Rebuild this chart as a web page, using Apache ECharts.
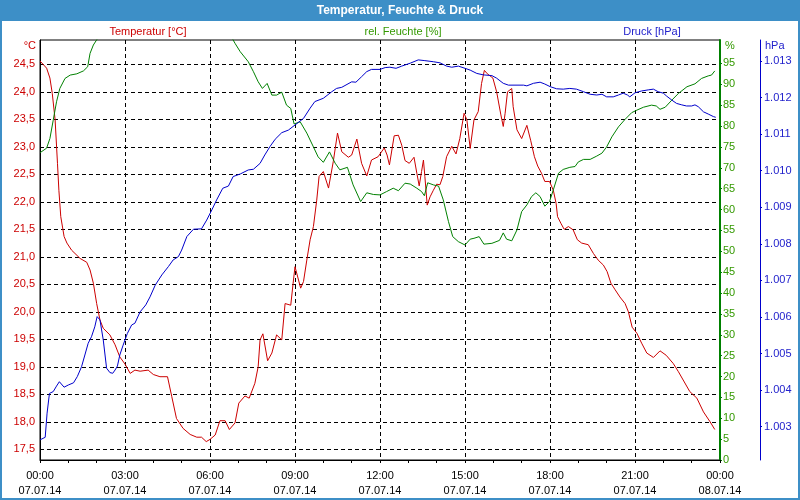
<!DOCTYPE html>
<html><head><meta charset="utf-8">
<script src="https://cdn.jsdelivr.net/npm/echarts@6/dist/echarts.min.js"></script>
<style>html,body{margin:0;padding:0;background:#fff}#c{width:800px;height:500px}</style>
</head><body><div id="c"></div><script>
// Time axis labels (every 3 hours)
const xLabels = ['00:00\n07.07.14','03:00\n07.07.14','06:00\n07.07.14','09:00\n07.07.14','12:00\n07.07.14','15:00\n07.07.14','18:00\n07.07.14','21:00\n07.07.14','00:00\n08.07.14'];
const tempTicks = [17.5,18,18.5,19,19.5,20,20.5,21,21.5,22,22.5,23,23.5,24,24.5];
const humTicks = [0,5,10,15,20,25,30,35,40,45,50,55,60,65,70,75,80,85,90,95];
const presTicks = [1003,1004,1005,1006,1007,1008,1009,1010,1011,1012,1013];

// Temperatur [°C] - minutes since 00:00
const tempTime = [0,14,21,26,32,37,40,44,51,57,67,85,99,106,113,120,127,134,148,159,169,180,191,201,212,229,240,254,270,279,289,303,318,332,342,352,360,371,381,392,401,413,421,434,443,455,462,466,472,482,491,501,512,519,531,536,540,544,552,558,565,572,579,586,591,600,611,621,630,639,653,660,671,681,692,702,716,729,735,740,750,759,766,773,782,792,798,803,808,812,815,820,826,833,840,847,853,861,872,881,889,898,904,911,919,928,935,941,947,959,967,976,981,985,990,999,1002,1010,1020,1031,1039,1047,1054,1062,1069,1079,1087,1093,1096,1103,1110,1119,1129,1138,1147,1161,1172,1182,1193,1201,1209,1218,1228,1239,1246,1254,1264,1274,1285,1299,1313,1326,1341,1352,1362,1376,1391,1405,1419,1429];
const tempVal = [24.56,24.43,24.25,23.97,23.49,22.7,22.21,21.73,21.37,21.25,21.12,20.97,20.9,20.76,20.52,20.15,19.85,19.7,19.58,19.4,19.18,19.05,18.88,18.94,18.92,18.94,18.86,18.82,18.82,18.46,18.06,17.88,17.77,17.72,17.72,17.64,17.68,17.76,18.02,18.02,17.86,17.98,18.34,18.47,18.43,18.7,19.0,19.49,19.6,19.11,19.25,19.58,19.49,20.15,20.12,20.52,20.82,20.85,20.43,20.55,20.94,21.31,21.55,22.03,22.46,22.55,22.25,22.73,23.25,22.91,22.81,22.85,23.14,22.7,22.47,22.76,22.82,22.98,22.85,22.67,23.2,23.21,23.03,22.75,22.7,22.81,22.52,22.29,22.55,22.76,22.46,21.94,22.09,22.21,22.32,22.31,22.46,22.82,23.01,22.87,23.15,23.61,23.49,22.97,23.49,23.64,24.15,24.39,24.33,24.25,24.0,23.58,23.37,23.61,24.0,24.06,23.73,23.31,23.15,23.39,23.12,22.82,22.65,22.52,22.37,22.37,22.21,21.97,21.73,21.61,21.5,21.55,21.49,21.31,21.25,21.22,21.06,20.94,20.85,20.73,20.52,20.4,20.27,20.15,20.0,19.72,19.61,19.43,19.25,19.17,19.29,19.21,19.06,18.91,18.76,18.55,18.43,18.18,18.0,17.86];

// rel. Feuchte [%]
const humTime = [0,14,21,28,35,42,53,64,78,92,101,106,113,121,127,398,408,413,424,441,452,462,471,481,491,501,512,522,531,538,551,565,579,589,600,613,625,635,651,663,679,692,706,720,734,748,759,773,784,798,808,814,821,833,844,854,865,874,886,900,911,919,930,940,957,973,981,988,999,1010,1020,1031,1041,1050,1059,1069,1079,1087,1098,1108,1122,1133,1140,1151,1165,1179,1190,1200,1211,1225,1239,1253,1264,1278,1295,1305,1313,1324,1338,1352,1370,1387,1401,1415,1422,1429];
const humVal = [73.6,74.7,77.0,81.4,85.8,89.0,91.4,92.2,92.5,93.2,94.2,97.4,99.4,100.8,102,102,100.8,99.8,97.8,95.4,93.0,90.6,89.0,90.2,87.4,87.4,88.1,85.0,84.2,80.5,81.0,78.3,75.0,72.6,71.3,73.8,71.1,69.5,70.1,65.9,61.9,64.0,63.6,63.5,64.3,65.1,64.5,66.3,66.1,65.1,64.3,63.3,66.4,65.9,65.6,62.3,57.1,53.5,52.3,51.5,52.9,53.1,53.5,51.7,51.9,52.6,54.4,52.9,52.5,55.1,59.5,61.1,63.1,64.0,63.1,60.8,61.9,64.7,68.7,69.6,70.1,70.3,71.4,72.0,72.0,72.8,73.5,75.0,77.4,79.8,81.6,83.2,83.8,84.5,85.0,84.8,84.0,84.5,86.2,87.8,89.4,90.1,91.4,92.0,92.2,93.2];

// Druck [hPa]
const presTime = [0,11,15,20,28,35,41,51,60,71,79,88,95,102,109,116,121,127,134,141,148,154,159,164,169,176,185,194,201,212,224,233,244,258,272,282,293,300,311,325,342,353,364,374,387,399,409,424,441,452,466,476,487,498,512,526,540,558,572,582,600,618,628,639,660,669,681,692,702,720,731,741,754,766,784,801,815,833,847,861,872,886,900,911,925,939,957,967,981,992,1024,1031,1045,1059,1069,1080,1094,1108,1122,1136,1151,1165,1179,1190,1200,1214,1225,1235,1244,1249,1260,1274,1288,1299,1309,1320,1327,1338,1348,1359,1369,1380,1387,1394,1405,1415,1426,1431];
const presVal = [1002.64,1002.71,1003.37,1003.91,1003.96,1004.11,1004.23,1004.08,1004.14,1004.2,1004.37,1004.64,1004.96,1005.28,1005.46,1005.73,1006.01,1005.92,1005.37,1004.6,1004.48,1004.46,1004.55,1004.66,1004.96,1005.23,1005.55,1005.78,1005.83,1006.14,1006.33,1006.55,1006.87,1007.15,1007.38,1007.56,1007.65,1007.83,1008.2,1008.4,1008.41,1008.65,1008.93,1009.2,1009.52,1009.58,1009.84,1009.91,1010.02,1010.04,1010.2,1010.43,1010.66,1010.86,1011.04,1011.11,1011.25,1011.43,1011.71,1011.89,1011.98,1012.16,1012.25,1012.28,1012.43,1012.42,1012.57,1012.71,1012.77,1012.77,1012.82,1012.83,1012.8,1012.86,1012.94,1013.03,1013.01,1012.98,1012.95,1012.86,1012.83,1012.86,1012.8,1012.75,1012.66,1012.62,1012.6,1012.53,1012.39,1012.34,1012.34,1012.32,1012.39,1012.42,1012.37,1012.3,1012.24,1012.23,1012.25,1012.23,1012.16,1012.09,1012.07,1012.09,1012.02,1012.02,1012.07,1012.12,1012.07,1012.02,1012.13,1012.18,1012.21,1012.23,1012.16,1012.12,1012.04,1011.93,1011.84,1011.8,1011.77,1011.77,1011.8,1011.75,1011.61,1011.55,1011.48,1011.46];

const zip = (a, b) => a.map((t, i) => [t, b[i]]);
const FONT = 'Liberation Sans';
const RED = '#cc0000', GREEN = '#008000', GREENTXT = '#339900', BLUE = '#0000cc', BLUETXT = '#2222cc';

const chart = echarts.init(document.getElementById('c'), null, {renderer: 'canvas'});
chart.setOption({
  animation: false,
  backgroundColor: '#ffffff',
  textStyle: {fontFamily: FONT},
  grid: {left: 40, right: 80, top: 40, bottom: 40, show: true, borderColor: '#000', borderWidth: 1, backgroundColor: '#ffffff'},
  graphic: [
    {type: 'rect', shape: {x: 0, y: 0, width: 800, height: 21}, style: {fill: '#3d8fc7'}, silent: true},
    {type: 'rect', shape: {x: 1, y: 1, width: 798, height: 498}, style: {fill: 'none', stroke: '#3d8fc7', lineWidth: 2}, silent: true},
    {type: 'text', x: 400, y: 11, style: {text: 'Temperatur, Feuchte & Druck', fill: '#fff', font: 'bold 12px "Liberation Sans"', align: 'center', verticalAlign: 'middle', textShadowColor: 'rgba(0,0,0,0.35)', textShadowOffsetX: 1, textShadowOffsetY: 1}},
    {type: 'text', x: 148, y: 32, style: {text: 'Temperatur [°C]', fill: RED, font: '11px "Liberation Sans"', align: 'center', verticalAlign: 'middle'}},
    {type: 'text', x: 403, y: 32, style: {text: 'rel. Feuchte [%]', fill: GREENTXT, font: '11px "Liberation Sans"', align: 'center', verticalAlign: 'middle'}},
    {type: 'text', x: 652, y: 32, style: {text: 'Druck [hPa]', fill: BLUETXT, font: '11px "Liberation Sans"', align: 'center', verticalAlign: 'middle'}},
    {type: 'text', x: 36, y: 46, style: {text: '°C', fill: RED, font: '11px "Liberation Sans"', align: 'right', verticalAlign: 'middle'}},
    {type: 'text', x: 725, y: 46, style: {text: '%', fill: GREENTXT, font: '11px "Liberation Sans"', align: 'left', verticalAlign: 'middle'}},
    {type: 'text', x: 765, y: 46, style: {text: 'hPa', fill: BLUETXT, font: '11px "Liberation Sans"', align: 'left', verticalAlign: 'middle'}}
  ],
  xAxis: {
    type: 'value', min: 0, max: 1440, interval: 180,
    axisLine: {show: true, onZero: false, lineStyle: {color: '#000', width: 1}},
    axisTick: {show: true, length: 3, lineStyle: {color: '#000'}},
    minorTick: {show: true, splitNumber: 3, length: 3, lineStyle: {color: '#000'}},
    splitLine: {show: true, lineStyle: {color: '#000', type: [4, 3], width: 1}},
    axisLabel: {color: '#000', fontFamily: FONT, fontSize: 11, lineHeight: 15, margin: 8,
      formatter: v => xLabels[Math.round(v / 180)]}
  },
  yAxis: [
    {
      type: 'value', position: 'left', min: 17.3055, max: 24.942,
      axisLine: {show: true, lineStyle: {color: '#000'}},
      axisTick: {show: false, customValues: tempTicks},
      splitLine: {show: true, lineStyle: {color: '#000', type: [4, 3], width: 1}},
      axisLabel: {customValues: tempTicks, color: RED, fontFamily: FONT, fontSize: 11, margin: 5,
        formatter: v => v.toFixed(1).replace('.', ',')}
    },
    {
      type: 'value', position: 'right', min: 0, max: 100.6,
      axisLine: {show: true, lineStyle: {color: GREEN, width: 2}},
      axisTick: {show: true, length: 2, customValues: humTicks, lineStyle: {color: GREEN}},
      splitLine: {show: false},
      axisLabel: {customValues: humTicks, color: GREENTXT, fontFamily: FONT, fontSize: 11, margin: 3}
    },
    {
      type: 'value', position: 'right', offset: 40, min: 1002.089, max: 1013.574,
      axisLine: {show: true, lineStyle: {color: BLUE, width: 1}},
      axisTick: {show: true, length: 2, customValues: presTicks, lineStyle: {color: BLUE}},
      splitLine: {show: false},
      axisLabel: {customValues: presTicks, color: BLUETXT, fontFamily: FONT, fontSize: 11, margin: 4,
        formatter: v => (v / 1000).toFixed(3)}
    }
  ],
  series: [
    {type: 'line', name: 'Temperatur', yAxisIndex: 0, data: zip(tempTime, tempVal), showSymbol: false, symbol: 'none', lineStyle: {color: RED, width: 1}, clip: true},
    {type: 'line', name: 'Feuchte', yAxisIndex: 1, data: zip(humTime, humVal), showSymbol: false, symbol: 'none', lineStyle: {color: GREEN, width: 1}, clip: true},
    {type: 'line', name: 'Druck', yAxisIndex: 2, data: zip(presTime, presVal), showSymbol: false, symbol: 'none', lineStyle: {color: BLUE, width: 1}, clip: true}
  ]
});
</script></body></html>
